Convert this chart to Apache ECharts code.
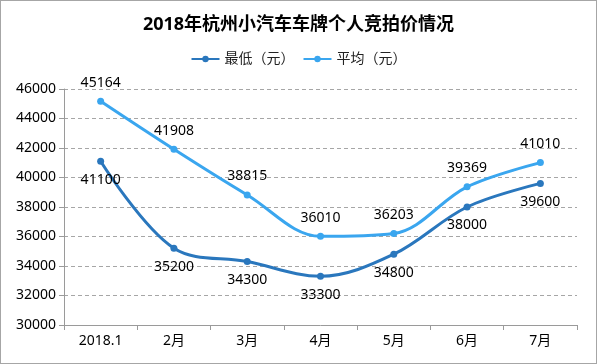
<!DOCTYPE html>
<html><head><meta charset="utf-8">
<script src="https://cdn.jsdelivr.net/npm/echarts@6/dist/echarts.min.js"></script>
<style>html,body{margin:0;padding:0;background:#fff}#c{width:597px;height:364px;box-sizing:border-box;border:1px solid #a6a6a6}</style>
</head><body><div id="c"></div>
<script>
const categories = ['2018.1','2月','3月','4月','5月','6月','7月'];
const lowValues = [41100,35200,34300,33300,34800,38000,39600];
const avgValues = [45164,41908,38815,36010,36203,39369,41010];
const seriesNames = ['最低（元）','平均（元）'];
const chart = echarts.init(document.getElementById('c'));
const font = '"Noto Sans","Noto Sans CJK SC",sans-serif';
chart.setOption({
  animation:false,
  title:{text:'2018年杭州小汽车车牌个人竞拍价情况',left:'center',top:10,textStyle:{fontSize:18,fontWeight:'bold',color:'#000',fontFamily:font}},
  legend:{top:46,left:'center',itemWidth:28,itemHeight:8,itemGap:8,textStyle:{fontSize:14,color:'#222',fontFamily:font},data:seriesNames},
  grid:{left:63,right:19,top:88,bottom:38},
  xAxis:{type:'category',data:categories,boundaryGap:true,
    axisLine:{lineStyle:{color:'#9a9a9a'}},axisTick:{show:true,length:5,lineStyle:{color:'#9a9a9a'}},
    axisLabel:{fontSize:14,color:'#000',margin:9,fontFamily:font}},
  yAxis:{type:'value',min:30000,max:46000,interval:2000,
    axisLine:{show:true,lineStyle:{color:'#9a9a9a'}},axisTick:{show:true,length:5,lineStyle:{color:'#9a9a9a'}},
    axisLabel:{fontSize:14,color:'#000',margin:8,fontFamily:font,formatter:v=>String(v)},
    splitLine:{lineStyle:{color:'#a6a6a6',type:[4,3]}}},
  series:[
    {name:seriesNames[0],type:'line',data:lowValues,smooth:0.35,symbol:'circle',symbolSize:7,
      itemStyle:{color:'#2a77bd'},lineStyle:{width:3,color:'#2a77bd'},
      label:{show:true,position:'bottom',distance:8,fontSize:14,color:'#000',fontFamily:font}},
    {name:seriesNames[1],type:'line',data:avgValues,smooth:0.35,symbol:'circle',symbolSize:7,
      itemStyle:{color:'#3aa6ef'},lineStyle:{width:3,color:'#3aa6ef'},
      label:{show:true,position:'top',distance:8,fontSize:14,color:'#000',fontFamily:font}}
  ]
});
</script></body></html>
